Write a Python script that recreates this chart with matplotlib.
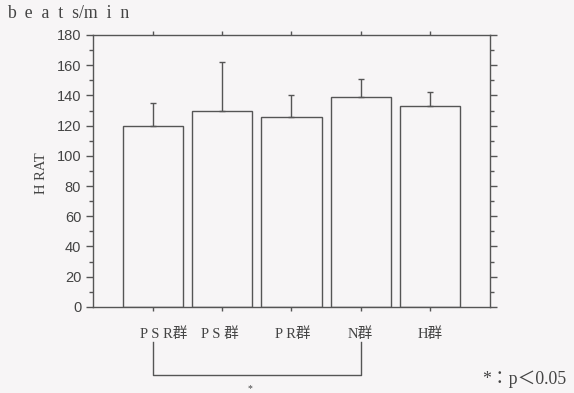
import matplotlib
matplotlib.use('Agg')
import matplotlib.pyplot as plt
import numpy as np
from matplotlib.ticker import MultipleLocator

groups = ['P S R群', 'P S 群', 'P R群', 'N群', 'H群']
means = [119.5, 130, 126, 139, 133]
sd_up = [15.5, 32, 14, 12, 9]
label_shift = [0.15, -0.03, 0.02, 0.0, 0.0]

ink = '#555555'
txt = '#444444'
bg = '#f7f5f6'
serif = ['Liberation Serif', 'Noto Sans CJK JP']

fig = plt.figure(figsize=(5.74, 3.93), dpi=100, facecolor=bg)
ax = fig.add_axes([0.162, 0.219, 0.692, 0.692], facecolor=bg)

x = np.arange(len(groups))
ax.bar(x, means, width=0.87, color='none', edgecolor=ink, linewidth=1.0)
ax.errorbar(x, means, yerr=[np.zeros(len(x)), sd_up], fmt='none',
            ecolor=ink, elinewidth=1.0, capsize=2.5, capthick=1.0)

ax.set_xlim(-0.867, 4.87)
ax.set_ylim(0, 180)
ax.yaxis.set_major_locator(MultipleLocator(20))
ax.yaxis.set_minor_locator(MultipleLocator(10))
ax.set_xticks(x)
ax.set_xticklabels([''] * len(x))

for s in ax.spines.values():
    s.set_color(ink)
    s.set_linewidth(1.0)

ax.tick_params(axis='y', which='major', direction='out', length=5, width=1,
               color=ink, labelcolor=txt, labelsize=10.5, right=True)
ax.tick_params(axis='y', which='minor', direction='out', length=3, width=1,
               color=ink, right=True)
ax.tick_params(axis='x', direction='out', length=3, width=1, color=ink, top=True)
for lb in ax.get_yticklabels():
    lb.set_family('Liberation Sans')

ax.set_ylabel('H RAT', family=serif, fontsize=10.5, color=txt)
ax.yaxis.set_label_coords(-0.113, 0.49)

for i, g in enumerate(groups):
    ax.text(i + label_shift[i], -18, g, family=serif, fontsize=10.5,
            color=txt, ha='center', va='center', clip_on=False)

# significance bracket
ax.plot([0, 0, 3, 3], [-23, -45, -45, -23], color=ink, lw=1.0, clip_on=False)
ax.text(1.4, -54, '*', family=serif, fontsize=7, color=txt,
        ha='center', va='center', clip_on=False)

fig.text(0.012, 0.965, 'b\u2002e\u2002a\u2002t\u2002s/m\u2002i\u2002n',
         family=serif, fontsize=12.8, color=txt, ha='left', va='center')
fig.text(0.84, 0.035, '*：p＜0.05', family=serif, fontsize=12.8,
         color=txt, ha='left', va='center')

fig.savefig('out.png', dpi=100, facecolor=bg)
